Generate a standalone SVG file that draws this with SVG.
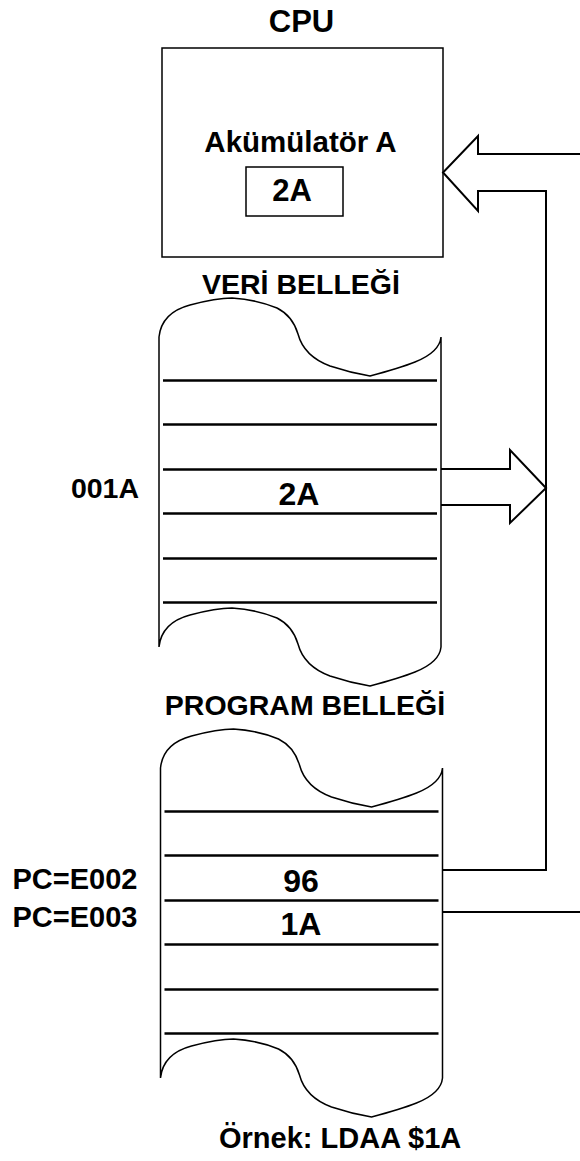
<svg xmlns="http://www.w3.org/2000/svg" width="580" height="1161" viewBox="0 0 580 1161">
<style>
text{font-family:"Liberation Sans",Arial,sans-serif;font-weight:bold;fill:#000}
.box{fill:#fff;stroke:#000;stroke-width:1.5}
.mem{fill:#fff;stroke:#000;stroke-width:1.5}
.row{stroke:#000;stroke-width:2.5}
.conn{fill:none;stroke:#000;stroke-width:2}
</style>
<defs>
<g id="memshape">
<path class="mem" d="M159,337 C161,318 175,309 190,305 C205,301 218,298 232,298 C248,299 265,303 277,308 C289,314 295,324 298,334 C302,349 314,360 330,366 C345,371 358,374 370,376 C385,372 400,368 415,362 C430,356 440,348 441,337 L441,647 C440,658 430,666 415,672 C400,678 385,682 370,686 C358,684 345,681 330,676 C314,670 302,659 298,644 C295,634 289,624 277,618 C265,613 248,609 232,608 C218,608 205,611 190,615 C175,619 161,628 159,647 Z"/>
<line class="row" x1="163" y1="380.5" x2="437" y2="380.5"/>
<line class="row" x1="163" y1="424.5" x2="437" y2="424.5"/>
<line class="row" x1="163" y1="469.5" x2="437" y2="469.5"/>
<line class="row" x1="163" y1="513.5" x2="437" y2="513.5"/>
<line class="row" x1="163" y1="558.5" x2="437" y2="558.5"/>
<line class="row" x1="163" y1="602.5" x2="437" y2="602.5"/>
</g>
</defs>
<g id="cpu">
<text x="301.5" y="32" font-size="31" text-anchor="middle">CPU</text>
<rect class="box" x="162" y="48" width="281" height="209"/>
<text x="300.5" y="152" font-size="29.5" text-anchor="middle">Akümülatör A</text>
<g id="accumulator">
<rect class="box" x="246" y="167" width="97" height="49"/>
<text x="292" y="201" font-size="31" text-anchor="middle">2A</text>
</g>
</g>
<g id="data-memory">
<text x="301" y="294" font-size="28.5" text-anchor="middle">VERİ BELLEĞİ</text>
<use href="#memshape"/>
<text x="105" y="498" font-size="28.5" text-anchor="middle">001A</text>
<text x="299" y="505" font-size="32" text-anchor="middle">2A</text>
</g>
<g id="program-memory">
<text x="305" y="715" font-size="28.5" text-anchor="middle">PROGRAM BELLEĞİ</text>
<use href="#memshape" transform="translate(1.5,431)"/>
<text x="75" y="889" font-size="29" text-anchor="middle">PC=E002</text>
<text x="75" y="927" font-size="29" text-anchor="middle">PC=E003</text>
<text x="301" y="892" font-size="32" text-anchor="middle">96</text>
<text x="301" y="935" font-size="32" text-anchor="middle">1A</text>
</g>
<g id="caption">
<text x="219" y="1148" font-size="29">Örnek: LDAA $1A</text>
</g>
<g id="connectors">
<path class="conn" d="M580,154 L478,154 L478,136 L443,172.5 L478,211 L478,191 L546,191 L546,870 L442,870"/>
<path class="conn" d="M442,912 L580,912"/>
<path class="conn" d="M441,469 L510,469 L510,450 L546,488 L510,523 L510,505 L441,505"/>
</g>
</svg>
